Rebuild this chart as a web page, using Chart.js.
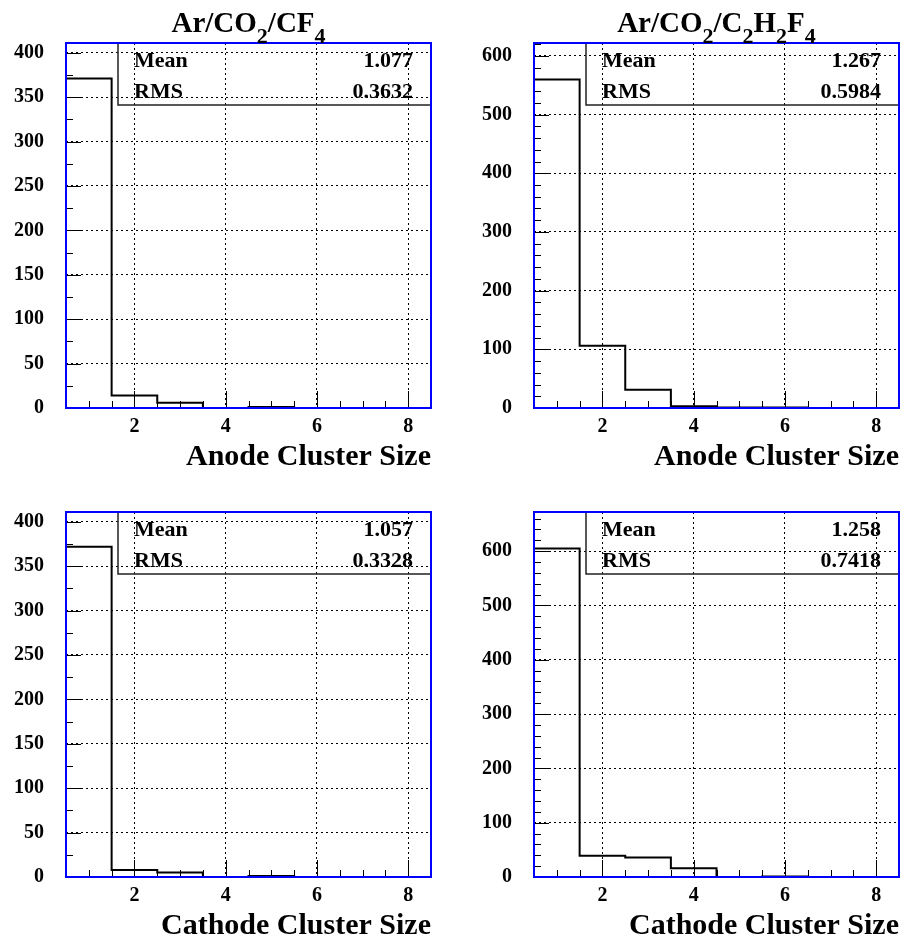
<!DOCTYPE html>
<html>
<head>
<meta charset="utf-8">
<script src="https://cdn.jsdelivr.net/npm/chart.js@4.4.1/dist/chart.umd.min.js"></script>
<style>
  body { margin: 0; background: #fff; }
  #wrap { position: relative; width: 904px; height: 945px; }
  canvas { position: absolute; }
</style>
</head>
<body>
<div id="wrap">
  <canvas id="anodeCF4" width="452" height="469" style="left:0;top:0"></canvas>
  <canvas id="anodeC2H2F4" width="452" height="469" style="left:452px;top:0"></canvas>
  <canvas id="cathodeCF4" width="452" height="469" style="left:0;top:469px"></canvas>
  <canvas id="cathodeC2H2F4" width="452" height="469" style="left:452px;top:469px"></canvas>
</div>
<script>
// cluster size bins (bin centres, width 1)
var binCenters = [1, 2, 3, 4, 5, 6, 7, 8];
var xTicks = [2, 4, 6, 8];

// entries per bin
var anodeCF4 = [371, 14, 6, 0, 1, 0, 0, 0];
var anodeC2H2F4 = [560, 106, 31, 3, 1, 1, 0, 0];
var cathodeCF4 = [372, 8, 5, 0, 1, 0, 0, 0];
var cathodeC2H2F4 = [605, 39, 36, 16, 0, 1, 0, 0];

var yTicksCF4 = [0, 50, 100, 150, 200, 250, 300, 350, 400];
var yTicksC2H2F4 = [0, 100, 200, 300, 400, 500, 600];

var FONT = "'Liberation Serif', 'Times New Roman', serif";

// ROOT-like decorations: blue frame, inner ticks, stat box, gas title
const rootPlugin = {
  id: 'rootStyle',
  afterDraw(chart, args, o) {
    const ctx = chart.ctx, a = chart.chartArea;
    const xs = chart.scales.x, ys = chart.scales.y;
    ctx.save();

    // inner tick marks
    ctx.strokeStyle = '#000';
    ctx.lineWidth = 1;
    ctx.beginPath();
    for (let v = 0; v <= ys.max; v += o.yMinor) {
      const py = Math.round(ys.getPixelForValue(v)) + 0.5;
      const len = o.yTicks.includes(v) ? 15 : 7;
      ctx.moveTo(a.left, py); ctx.lineTo(a.left + len, py);
    }
    for (let v = xs.min; v <= xs.max; v += 0.5) {
      const px = Math.round(xs.getPixelForValue(v)) + 0.5;
      const len = xTicks.includes(v) ? 17 : 7;
      ctx.moveTo(px, a.bottom); ctx.lineTo(px, a.bottom - len);
    }
    ctx.stroke();

    // stat box
    ctx.strokeStyle = '#222';
    ctx.lineWidth = 1.5;
    ctx.beginPath();
    ctx.moveTo(a.left + 52, a.top);
    ctx.lineTo(a.left + 52, a.top + 62);
    ctx.lineTo(a.right, a.top + 62);
    ctx.stroke();
    ctx.fillStyle = '#000';
    ctx.font = 'bold 22px ' + FONT;
    ctx.textBaseline = 'alphabetic';
    ctx.textAlign = 'left';
    ctx.fillText('Mean', a.left + 68, a.top + 24);
    ctx.fillText('RMS', a.left + 68, a.top + 55);
    ctx.textAlign = 'right';
    ctx.fillText(o.mean, a.right - 18, a.top + 24);
    ctx.fillText(o.rms, a.right - 18, a.top + 55);

    // frame
    ctx.strokeStyle = '#0000ff';
    ctx.lineWidth = 2;
    ctx.strokeRect(a.left, a.top, a.right - a.left, a.bottom - a.top);

    // title with subscripted digits
    if (o.title) {
      const parts = o.title.split(/(\d)/).filter(s => s.length);
      const big = 'bold 29px ' + FONT, small = 'bold 22px ' + FONT;
      let w = 0;
      parts.forEach(p => { ctx.font = /\d/.test(p) ? small : big; w += ctx.measureText(p).width; });
      let x = (a.left + a.right) / 2 - w / 2;
      ctx.textAlign = 'left';
      parts.forEach(p => {
        const sub = /\d/.test(p);
        ctx.font = sub ? small : big;
        ctx.fillText(p, x, sub ? 43 : 32);
        x += ctx.measureText(p).width;
      });
    }
    ctx.restore();
  }
};

function histPoints(counts) {
  const pts = counts.map((c, i) => ({ x: binCenters[i] - 0.5, y: c }));
  pts.push({ x: binCenters[binCenters.length - 1] + 0.5, y: counts[counts.length - 1] });
  return pts;
}

function makePanel(id, counts, p) {
  new Chart(document.getElementById(id), {
    type: 'line',
    data: {
      datasets: [{
        data: histPoints(counts),
        stepped: 'before',
        borderColor: '#000',
        borderWidth: 2,
        pointRadius: 0,
        fill: false
      }]
    },
    options: {
      responsive: false,
      animation: false,
      layout: { padding: { top: 43, right: p.padRight, left: 0, bottom: 0 } },
      plugins: {
        legend: { display: false },
        tooltip: { enabled: false },
        rootStyle: { yTicks: p.yTicks, yMinor: p.yMinor, mean: p.mean, rms: p.rms, title: p.title }
      },
      scales: {
        x: {
          type: 'linear',
          min: 0.5,
          max: 8.5,
          afterBuildTicks: s => { s.ticks = xTicks.map(v => ({ value: v })); },
          afterFit: s => { s.height = 61; },
          grid: { color: '#000', lineWidth: 1, drawTicks: false },
          border: { display: false, dash: [2, 3] },
          ticks: { color: '#000', padding: 7, autoSkip: false, maxRotation: 0,
                   font: { family: FONT, size: 20, weight: 'bold' } },
          title: { display: true, text: p.xTitle, align: 'end', color: '#000', padding: 0,
                   font: { family: FONT, size: 30, weight: 'bold', lineHeight: 0.8 } }
        },
        y: {
          min: 0,
          max: p.yMax,
          afterBuildTicks: s => { s.ticks = p.yTicks.map(v => ({ value: v })); },
          afterFit: s => { s.width = p.frameLeft; },
          grid: { color: '#000', lineWidth: 1, drawTicks: false },
          border: { display: false, dash: [2, 3] },
          ticks: { color: '#000', padding: 22, autoSkip: false,
                   font: { family: FONT, size: 20, weight: 'bold' } }
        }
      }
    },
    plugins: [rootPlugin]
  });
}

makePanel('anodeCF4', anodeCF4, {
  yMax: 411, yTicks: yTicksCF4, yMinor: 25, mean: '1.077', rms: '0.3632',
  title: 'Ar/CO2/CF4', xTitle: 'Anode Cluster Size', frameLeft: 66, padRight: 21
});
makePanel('anodeC2H2F4', anodeC2H2F4, {
  yMax: 622, yTicks: yTicksC2H2F4, yMinor: 20, mean: '1.267', rms: '0.5984',
  title: 'Ar/CO2/C2H2F4', xTitle: 'Anode Cluster Size', frameLeft: 82, padRight: 5
});
makePanel('cathodeCF4', cathodeCF4, {
  yMax: 411, yTicks: yTicksCF4, yMinor: 25, mean: '1.057', rms: '0.3328',
  title: '', xTitle: 'Cathode Cluster Size', frameLeft: 66, padRight: 21
});
makePanel('cathodeC2H2F4', cathodeC2H2F4, {
  yMax: 672, yTicks: yTicksC2H2F4, yMinor: 20, mean: '1.258', rms: '0.7418',
  title: '', xTitle: 'Cathode Cluster Size', frameLeft: 82, padRight: 5
});
</script>
</body>
</html>
